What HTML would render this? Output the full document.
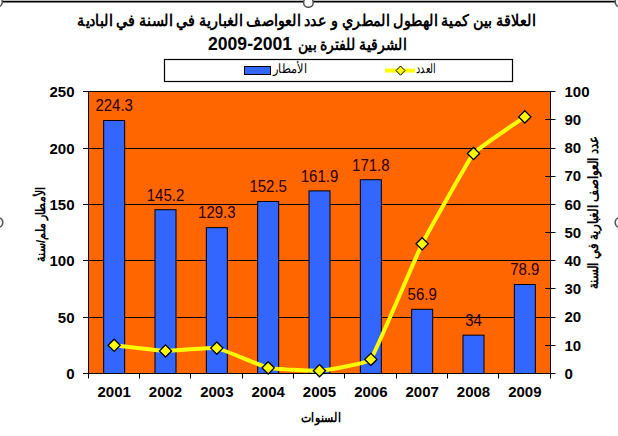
<!DOCTYPE html>
<html><head><meta charset="utf-8"><style>
html,body{margin:0;padding:0;background:#fff;width:618px;height:436px;overflow:hidden}
svg{display:block}
</style></head><body>
<svg width="618" height="436" viewBox="0 0 618 436">
<line x1="0" y1="1.6" x2="618" y2="1.6" stroke="#000" stroke-width="1.9"/>
<circle cx="-2.5" cy="2" r="4.8" fill="#fff" stroke="#555" stroke-width="1.6"/>
<circle cx="308.4" cy="2.5" r="4.8" fill="#fff" stroke="#555" stroke-width="1.6"/>
<circle cx="620" cy="2" r="4.8" fill="#fff" stroke="#555" stroke-width="1.6"/>
<circle cx="-2" cy="222.5" r="4.8" fill="#fff" stroke="#555" stroke-width="1.6"/>
<circle cx="620" cy="222.5" r="4.8" fill="#fff" stroke="#555" stroke-width="1.6"/>
<text x="306.45" y="25.8" text-anchor="middle" textLength="458" lengthAdjust="spacingAndGlyphs" font-family="'Liberation Sans', sans-serif" font-weight="bold" font-size="16" direction="rtl">العلاقة بين كمية الهطول المطري و عدد العواصف الغبارية في السنة في البادية</text>
<text x="352.15" y="49.6" text-anchor="middle" textLength="108.3" lengthAdjust="spacingAndGlyphs" font-family="'Liberation Sans', sans-serif" font-weight="bold" font-size="16" direction="rtl">الشرقية للفترة بين</text>
<text x="208" y="49.5" font-family="'Liberation Sans', sans-serif" font-weight="bold" font-size="17.6">2009-2001</text>
<rect x="164.5" y="59.5" width="348" height="22" fill="#fff" stroke="#000" stroke-width="1.2"/>
<rect x="244.5" y="66.5" width="26" height="8" fill="#3366FF" stroke="#000" stroke-width="1"/>
<text x="290" y="73.3" text-anchor="middle" textLength="34" lengthAdjust="spacingAndGlyphs" font-family="'Liberation Sans', sans-serif" font-size="13" direction="rtl">الأمطار</text>
<line x1="385" y1="70.6" x2="415" y2="70.6" stroke="#FFFF00" stroke-width="4"/>
<path d="M400.5 66 L405 70.6 L400.5 75.2 L396 70.6 Z" fill="#FFFF00" stroke="#000" stroke-width="1"/>
<text x="426.05" y="73" text-anchor="middle" textLength="20.1" lengthAdjust="spacingAndGlyphs" font-family="'Liberation Sans', sans-serif" font-size="13" direction="rtl">العدد</text>
<rect x="88.5" y="91" width="462" height="282.5" fill="#FF6600"/>
<line x1="88" y1="317.5" x2="551" y2="317.5" stroke="#000" stroke-width="1"/>
<line x1="88" y1="260.5" x2="551" y2="260.5" stroke="#000" stroke-width="1"/>
<line x1="88" y1="204.5" x2="551" y2="204.5" stroke="#000" stroke-width="1"/>
<line x1="88" y1="148.5" x2="551" y2="148.5" stroke="#000" stroke-width="1"/>
<line x1="88" y1="91.5" x2="551" y2="91.5" stroke="#000" stroke-width="1"/>
<rect x="103.67" y="120.49" width="21" height="253.01" fill="#3366FF" stroke="#000" stroke-width="1"/>
<rect x="155.00" y="209.71" width="21" height="163.79" fill="#3366FF" stroke="#000" stroke-width="1"/>
<rect x="206.33" y="227.65" width="21" height="145.85" fill="#3366FF" stroke="#000" stroke-width="1"/>
<rect x="257.67" y="201.48" width="21" height="172.02" fill="#3366FF" stroke="#000" stroke-width="1"/>
<rect x="309.00" y="190.88" width="21" height="182.62" fill="#3366FF" stroke="#000" stroke-width="1"/>
<rect x="360.33" y="179.71" width="21" height="193.79" fill="#3366FF" stroke="#000" stroke-width="1"/>
<rect x="411.67" y="309.32" width="21" height="64.18" fill="#3366FF" stroke="#000" stroke-width="1"/>
<rect x="463.00" y="335.15" width="21" height="38.35" fill="#3366FF" stroke="#000" stroke-width="1"/>
<rect x="514.33" y="284.50" width="21" height="89.00" fill="#3366FF" stroke="#000" stroke-width="1"/>
<line x1="88.5" y1="91" x2="88.5" y2="378" stroke="#000" stroke-width="1"/>
<line x1="550.5" y1="91" x2="550.5" y2="374" stroke="#000" stroke-width="1"/>
<line x1="83" y1="373.5" x2="551" y2="373.5" stroke="#000" stroke-width="1"/>
<line x1="83" y1="373.5" x2="88.5" y2="373.5" stroke="#000" stroke-width="1"/>
<line x1="83" y1="317.5" x2="88.5" y2="317.5" stroke="#000" stroke-width="1"/>
<line x1="83" y1="260.5" x2="88.5" y2="260.5" stroke="#000" stroke-width="1"/>
<line x1="83" y1="204.5" x2="88.5" y2="204.5" stroke="#000" stroke-width="1"/>
<line x1="83" y1="148.5" x2="88.5" y2="148.5" stroke="#000" stroke-width="1"/>
<line x1="83" y1="91.5" x2="88.5" y2="91.5" stroke="#000" stroke-width="1"/>
<line x1="545" y1="373.5" x2="555.5" y2="373.5" stroke="#000" stroke-width="1"/>
<line x1="545" y1="345.5" x2="555.5" y2="345.5" stroke="#000" stroke-width="1"/>
<line x1="545" y1="317.5" x2="555.5" y2="317.5" stroke="#000" stroke-width="1"/>
<line x1="545" y1="288.5" x2="555.5" y2="288.5" stroke="#000" stroke-width="1"/>
<line x1="545" y1="260.5" x2="555.5" y2="260.5" stroke="#000" stroke-width="1"/>
<line x1="545" y1="232.5" x2="555.5" y2="232.5" stroke="#000" stroke-width="1"/>
<line x1="545" y1="204.5" x2="555.5" y2="204.5" stroke="#000" stroke-width="1"/>
<line x1="545" y1="176.5" x2="555.5" y2="176.5" stroke="#000" stroke-width="1"/>
<line x1="545" y1="148.5" x2="555.5" y2="148.5" stroke="#000" stroke-width="1"/>
<line x1="545" y1="119.5" x2="555.5" y2="119.5" stroke="#000" stroke-width="1"/>
<line x1="545" y1="91.5" x2="555.5" y2="91.5" stroke="#000" stroke-width="1"/>
<line x1="88.5" y1="373.5" x2="88.5" y2="378.5" stroke="#000" stroke-width="1"/>
<line x1="139.5" y1="373.5" x2="139.5" y2="378.5" stroke="#000" stroke-width="1"/>
<line x1="190.5" y1="373.5" x2="190.5" y2="378.5" stroke="#000" stroke-width="1"/>
<line x1="242.5" y1="373.5" x2="242.5" y2="378.5" stroke="#000" stroke-width="1"/>
<line x1="293.5" y1="373.5" x2="293.5" y2="378.5" stroke="#000" stroke-width="1"/>
<line x1="344.5" y1="373.5" x2="344.5" y2="378.5" stroke="#000" stroke-width="1"/>
<line x1="396.5" y1="373.5" x2="396.5" y2="378.5" stroke="#000" stroke-width="1"/>
<line x1="447.5" y1="373.5" x2="447.5" y2="378.5" stroke="#000" stroke-width="1"/>
<line x1="498.5" y1="373.5" x2="498.5" y2="378.5" stroke="#000" stroke-width="1"/>
<line x1="550.5" y1="373.5" x2="550.5" y2="378.5" stroke="#000" stroke-width="1"/>
<path d="M114.17 345.30 C119.30 345.86 160.36 350.80 165.50 350.94 C170.64 351.08 211.76 347.28 216.83 348.12 C221.91 348.96 263.15 366.76 268.17 367.86 C273.19 368.96 314.38 371.10 319.50 370.68 C324.62 370.26 367.53 363.49 370.83 359.40 C374.14 355.31 417.53 253.07 422.17 243.78 C426.80 234.49 469.53 158.44 473.50 153.54 C477.47 148.64 519.70 120.55 524.83 116.88" fill="none" stroke="#FFFF00" stroke-width="4" stroke-linejoin="round"/>
<path d="M114.17 339.20 L120.27 345.30 L114.17 351.40 L108.07 345.30 Z" fill="#FFFF00" stroke="#000" stroke-width="1.3"/>
<path d="M165.50 344.84 L171.60 350.94 L165.50 357.04 L159.40 350.94 Z" fill="#FFFF00" stroke="#000" stroke-width="1.3"/>
<path d="M216.83 342.02 L222.93 348.12 L216.83 354.22 L210.73 348.12 Z" fill="#FFFF00" stroke="#000" stroke-width="1.3"/>
<path d="M268.17 361.76 L274.27 367.86 L268.17 373.96 L262.07 367.86 Z" fill="#FFFF00" stroke="#000" stroke-width="1.3"/>
<path d="M319.50 364.58 L325.60 370.68 L319.50 376.78 L313.40 370.68 Z" fill="#FFFF00" stroke="#000" stroke-width="1.3"/>
<path d="M370.83 353.30 L376.93 359.40 L370.83 365.50 L364.73 359.40 Z" fill="#FFFF00" stroke="#000" stroke-width="1.3"/>
<path d="M422.17 237.68 L428.27 243.78 L422.17 249.88 L416.07 243.78 Z" fill="#FFFF00" stroke="#000" stroke-width="1.3"/>
<path d="M473.50 147.44 L479.60 153.54 L473.50 159.64 L467.40 153.54 Z" fill="#FFFF00" stroke="#000" stroke-width="1.3"/>
<path d="M524.83 110.78 L530.93 116.88 L524.83 122.98 L518.73 116.88 Z" fill="#FFFF00" stroke="#000" stroke-width="1.3"/>
<text x="114.17" y="111.29" text-anchor="middle" textLength="37.53" lengthAdjust="spacingAndGlyphs" font-family="'Liberation Sans', sans-serif" font-size="16" fill="#2a0000">224.3</text>
<text x="165.50" y="200.51" text-anchor="middle" textLength="37.53" lengthAdjust="spacingAndGlyphs" font-family="'Liberation Sans', sans-serif" font-size="16" fill="#2a0000">145.2</text>
<text x="216.83" y="218.45" text-anchor="middle" textLength="37.53" lengthAdjust="spacingAndGlyphs" font-family="'Liberation Sans', sans-serif" font-size="16" fill="#2a0000">129.3</text>
<text x="268.17" y="192.28" text-anchor="middle" textLength="37.53" lengthAdjust="spacingAndGlyphs" font-family="'Liberation Sans', sans-serif" font-size="16" fill="#2a0000">152.5</text>
<text x="319.50" y="181.68" text-anchor="middle" textLength="37.53" lengthAdjust="spacingAndGlyphs" font-family="'Liberation Sans', sans-serif" font-size="16" fill="#2a0000">161.9</text>
<text x="370.83" y="170.51" text-anchor="middle" textLength="37.53" lengthAdjust="spacingAndGlyphs" font-family="'Liberation Sans', sans-serif" font-size="16" fill="#2a0000">171.8</text>
<text x="422.17" y="300.12" text-anchor="middle" textLength="29.19" lengthAdjust="spacingAndGlyphs" font-family="'Liberation Sans', sans-serif" font-size="16" fill="#2a0000">56.9</text>
<text x="473.50" y="325.95" text-anchor="middle" textLength="16.68" lengthAdjust="spacingAndGlyphs" font-family="'Liberation Sans', sans-serif" font-size="16" fill="#2a0000">34</text>
<text x="524.83" y="275.30" text-anchor="middle" textLength="29.19" lengthAdjust="spacingAndGlyphs" font-family="'Liberation Sans', sans-serif" font-size="16" fill="#2a0000">78.9</text>
<text x="74.5" y="378.50" text-anchor="end" font-family="'Liberation Sans', sans-serif" font-weight="bold" font-size="15">0</text>
<text x="74.5" y="322.50" text-anchor="end" font-family="'Liberation Sans', sans-serif" font-weight="bold" font-size="15">50</text>
<text x="74.5" y="265.50" text-anchor="end" font-family="'Liberation Sans', sans-serif" font-weight="bold" font-size="15">100</text>
<text x="74.5" y="209.50" text-anchor="end" font-family="'Liberation Sans', sans-serif" font-weight="bold" font-size="15">150</text>
<text x="74.5" y="153.50" text-anchor="end" font-family="'Liberation Sans', sans-serif" font-weight="bold" font-size="15">200</text>
<text x="74.5" y="96.50" text-anchor="end" font-family="'Liberation Sans', sans-serif" font-weight="bold" font-size="15">250</text>
<text x="564.5" y="378.70" font-family="'Liberation Sans', sans-serif" font-weight="bold" font-size="15">0</text>
<text x="564.5" y="350.50" font-family="'Liberation Sans', sans-serif" font-weight="bold" font-size="15">10</text>
<text x="564.5" y="322.30" font-family="'Liberation Sans', sans-serif" font-weight="bold" font-size="15">20</text>
<text x="564.5" y="294.10" font-family="'Liberation Sans', sans-serif" font-weight="bold" font-size="15">30</text>
<text x="564.5" y="265.90" font-family="'Liberation Sans', sans-serif" font-weight="bold" font-size="15">40</text>
<text x="564.5" y="237.70" font-family="'Liberation Sans', sans-serif" font-weight="bold" font-size="15">50</text>
<text x="564.5" y="209.50" font-family="'Liberation Sans', sans-serif" font-weight="bold" font-size="15">60</text>
<text x="564.5" y="181.30" font-family="'Liberation Sans', sans-serif" font-weight="bold" font-size="15">70</text>
<text x="564.5" y="153.10" font-family="'Liberation Sans', sans-serif" font-weight="bold" font-size="15">80</text>
<text x="564.5" y="124.90" font-family="'Liberation Sans', sans-serif" font-weight="bold" font-size="15">90</text>
<text x="564.5" y="96.70" font-family="'Liberation Sans', sans-serif" font-weight="bold" font-size="15">100</text>
<text x="114.17" y="397" text-anchor="middle" font-family="'Liberation Sans', sans-serif" font-weight="bold" font-size="15">2001</text>
<text x="165.50" y="397" text-anchor="middle" font-family="'Liberation Sans', sans-serif" font-weight="bold" font-size="15">2002</text>
<text x="216.83" y="397" text-anchor="middle" font-family="'Liberation Sans', sans-serif" font-weight="bold" font-size="15">2003</text>
<text x="268.17" y="397" text-anchor="middle" font-family="'Liberation Sans', sans-serif" font-weight="bold" font-size="15">2004</text>
<text x="319.50" y="397" text-anchor="middle" font-family="'Liberation Sans', sans-serif" font-weight="bold" font-size="15">2005</text>
<text x="370.83" y="397" text-anchor="middle" font-family="'Liberation Sans', sans-serif" font-weight="bold" font-size="15">2006</text>
<text x="422.17" y="397" text-anchor="middle" font-family="'Liberation Sans', sans-serif" font-weight="bold" font-size="15">2007</text>
<text x="473.50" y="397" text-anchor="middle" font-family="'Liberation Sans', sans-serif" font-weight="bold" font-size="15">2008</text>
<text x="524.83" y="397" text-anchor="middle" font-family="'Liberation Sans', sans-serif" font-weight="bold" font-size="15">2009</text>
<text x="321.1" y="422" text-anchor="middle" textLength="39.6" lengthAdjust="spacingAndGlyphs" font-family="'Liberation Sans', sans-serif" font-weight="bold" font-size="13" direction="rtl">السنوات</text>
<text transform="translate(45 224.3) rotate(-90)" x="0" y="0" text-anchor="middle" textLength="74.6" lengthAdjust="spacingAndGlyphs" font-family="'Liberation Sans', sans-serif" font-weight="bold" font-size="13" direction="rtl">الأمطار ملم/سنة</text>
<text transform="translate(597.5 213) rotate(-90)" x="0" y="0" text-anchor="middle" textLength="152.5" lengthAdjust="spacingAndGlyphs" font-family="'Liberation Sans', sans-serif" font-weight="bold" font-size="13.5" direction="rtl">عدد العواصف الغبارية في السنة</text>
</svg>
</body></html>
